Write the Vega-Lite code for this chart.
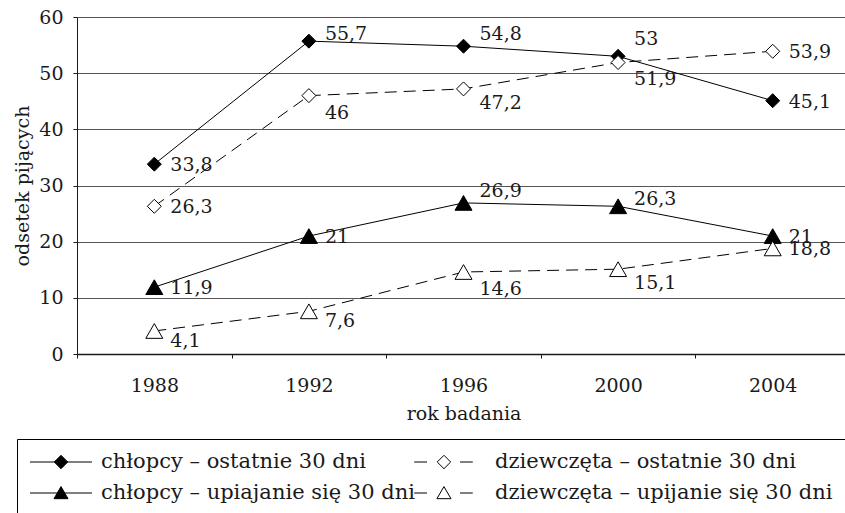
{
  "$schema": "https://vega.github.io/schema/vega-lite/v6.json",
  "width": 773,
  "height": 337,
  "autosize": "none",
  "padding": {"left": 77, "top": 17, "right": 0, "bottom": 159},
  "background": "white",
  "config": {
    "font": "DejaVu Serif",
    "view": {"stroke": null},
    "axis": {
      "labelFont": "DejaVu Serif",
      "labelFontSize": 19,
      "labelColor": "#1a1a1a",
      "titleFont": "DejaVu Serif",
      "titleFontSize": 19,
      "titleFontWeight": "normal",
      "titleColor": "#1a1a1a",
      "domainColor": "#1a1a1a",
      "tickColor": "#1a1a1a",
      "tickSize": 4,
      "gridColor": "#555555",
      "gridWidth": 1
    },
    "legend": {"labelFont": "DejaVu Serif"},
    "text": {"font": "DejaVu Serif"}
  },
  "data": {
    "values": [
      {"g": "B30", "series": "chłopcy – ostatnie 30 dni", "year": "1988", "v": 33.8, "label": "33,8"},
      {"g": "B30", "series": "chłopcy – ostatnie 30 dni", "year": "1992", "v": 55.7, "label": "55,7"},
      {"g": "B30", "series": "chłopcy – ostatnie 30 dni", "year": "1996", "v": 54.8, "label": "54,8"},
      {"g": "B30", "series": "chłopcy – ostatnie 30 dni", "year": "2000", "v": 53, "label": "53"},
      {"g": "B30", "series": "chłopcy – ostatnie 30 dni", "year": "2004", "v": 45.1, "label": "45,1"},
      {"g": "G30", "series": "dziewczęta – ostatnie 30 dni", "year": "1988", "v": 26.3, "label": "26,3"},
      {"g": "G30", "series": "dziewczęta – ostatnie 30 dni", "year": "1992", "v": 46, "label": "46"},
      {"g": "G30", "series": "dziewczęta – ostatnie 30 dni", "year": "1996", "v": 47.2, "label": "47,2"},
      {"g": "G30", "series": "dziewczęta – ostatnie 30 dni", "year": "2000", "v": 51.9, "label": "51,9"},
      {"g": "G30", "series": "dziewczęta – ostatnie 30 dni", "year": "2004", "v": 53.9, "label": "53,9"},
      {"g": "BB", "series": "chłopcy – upiajanie się 30 dni", "year": "1988", "v": 11.9, "label": "11,9"},
      {"g": "BB", "series": "chłopcy – upiajanie się 30 dni", "year": "1992", "v": 21, "label": "21"},
      {"g": "BB", "series": "chłopcy – upiajanie się 30 dni", "year": "1996", "v": 26.9, "label": "26,9"},
      {"g": "BB", "series": "chłopcy – upiajanie się 30 dni", "year": "2000", "v": 26.3, "label": "26,3"},
      {"g": "BB", "series": "chłopcy – upiajanie się 30 dni", "year": "2004", "v": 21, "label": "21"},
      {"g": "GB", "series": "dziewczęta – upijanie się 30 dni", "year": "1988", "v": 4.1, "label": "4,1"},
      {"g": "GB", "series": "dziewczęta – upijanie się 30 dni", "year": "1992", "v": 7.6, "label": "7,6"},
      {"g": "GB", "series": "dziewczęta – upijanie się 30 dni", "year": "1996", "v": 14.6, "label": "14,6"},
      {"g": "GB", "series": "dziewczęta – upijanie się 30 dni", "year": "2000", "v": 15.1, "label": "15,1"},
      {"g": "GB", "series": "dziewczęta – upijanie się 30 dni", "year": "2004", "v": 18.8, "label": "18,8"}
    ]
  },
  "encoding": {
    "x": {
      "field": "year",
      "type": "ordinal",
      "scale": {"type": "band", "paddingInner": 0, "paddingOuter": 0, "domain": ["1988", "1992", "1996", "2000", "2004"]},
      "axis": {"title": "rok badania", "labelAngle": 0, "tickBand": "extent", "labelPadding": 18, "titlePadding": 9, "domainWidth": 1.5, "grid": false}
    },
    "y": {
      "field": "v",
      "type": "quantitative",
      "scale": {"domain": [0, 60], "nice": false},
      "axis": {"title": "odsetek pijących", "values": [0, 10, 20, 30, 40, 50, 60], "labelPadding": 10, "titlePadding": 6, "grid": true}
    }
  },
  "layer": [
    {
      "transform": [{"filter": "datum.g == 'B30' || datum.g == 'BB'"}],
      "mark": {"type": "line", "stroke": "black", "strokeWidth": 1},
      "encoding": {"detail": {"field": "g"}}
    },
    {
      "transform": [{"filter": "datum.g == 'G30' || datum.g == 'GB'"}],
      "mark": {"type": "line", "stroke": "black", "strokeWidth": 1, "strokeDash": [12, 7]},
      "encoding": {"detail": {"field": "g"}}
    },
    {
      "transform": [{"filter": "datum.g == 'B30'"}],
      "mark": {"type": "point", "shape": "diamond", "filled": true, "fill": "black", "stroke": "black", "strokeWidth": 1, "size": 196, "opacity": 1}
    },
    {
      "transform": [{"filter": "datum.g == 'G30'"}],
      "mark": {"type": "point", "shape": "diamond", "filled": true, "fill": "white", "stroke": "black", "strokeWidth": 1, "size": 196, "opacity": 1}
    },
    {
      "transform": [{"filter": "datum.g == 'BB'"}],
      "mark": {"type": "point", "shape": "triangle-up", "filled": true, "fill": "black", "stroke": "black", "strokeWidth": 1, "size": 289, "opacity": 1}
    },
    {
      "transform": [{"filter": "datum.g == 'GB'"}],
      "mark": {"type": "point", "shape": "triangle-up", "filled": true, "fill": "white", "stroke": "black", "strokeWidth": 1, "size": 289, "opacity": 1}
    },
    {
      "transform": [{"filter": "indexof(['B30-1988','B30-2004','G30-1988','G30-2004','BB-1988','BB-1992','BB-2004','GB-2004'], datum.g + '-' + datum.year) >= 0"}],
      "mark": {"type": "text", "align": "left", "baseline": "middle", "dx": 16, "dy": 1, "fontSize": 19, "color": "#1a1a1a"},
      "encoding": {"text": {"field": "label"}}
    },
    {
      "transform": [{"filter": "indexof(['B30-1992','BB-2000'], datum.g + '-' + datum.year) >= 0"}],
      "mark": {"type": "text", "align": "left", "baseline": "middle", "dx": 16, "dy": -7, "fontSize": 19, "color": "#1a1a1a"},
      "encoding": {"text": {"field": "label"}}
    },
    {
      "transform": [{"filter": "indexof(['B30-1996','BB-1996'], datum.g + '-' + datum.year) >= 0"}],
      "mark": {"type": "text", "align": "left", "baseline": "middle", "dx": 16, "dy": -12, "fontSize": 19, "color": "#1a1a1a"},
      "encoding": {"text": {"field": "label"}}
    },
    {
      "transform": [{"filter": "indexof(['B30-2000'], datum.g + '-' + datum.year) >= 0"}],
      "mark": {"type": "text", "align": "left", "baseline": "middle", "dx": 16, "dy": -17, "fontSize": 19, "color": "#1a1a1a"},
      "encoding": {"text": {"field": "label"}}
    },
    {
      "transform": [{"filter": "indexof(['GB-1988','GB-1992'], datum.g + '-' + datum.year) >= 0"}],
      "mark": {"type": "text", "align": "left", "baseline": "middle", "dx": 16, "dy": 10, "fontSize": 19, "color": "#1a1a1a"},
      "encoding": {"text": {"field": "label"}}
    },
    {
      "transform": [{"filter": "indexof(['G30-1996','GB-2000'], datum.g + '-' + datum.year) >= 0"}],
      "mark": {"type": "text", "align": "left", "baseline": "middle", "dx": 16, "dy": 14, "fontSize": 19, "color": "#1a1a1a"},
      "encoding": {"text": {"field": "label"}}
    },
    {
      "transform": [{"filter": "indexof(['G30-1992','G30-2000','GB-1996'], datum.g + '-' + datum.year) >= 0"}],
      "mark": {"type": "text", "align": "left", "baseline": "middle", "dx": 16, "dy": 17, "fontSize": 19, "color": "#1a1a1a"},
      "encoding": {"text": {"field": "label"}}
    },
    {
      "transform": [{"filter": "false"}],
      "mark": {"type": "point", "filled": true, "stroke": "black", "strokeWidth": 1, "size": 427, "opacity": 1},
      "encoding": {
        "shape": {
          "field": "series",
          "type": "nominal",
          "scale": {
            "domain": ["chłopcy – ostatnie 30 dni", "chłopcy – upiajanie się 30 dni", "dziewczęta – ostatnie 30 dni", "dziewczęta – upijanie się 30 dni"],
            "range": [
              "M-3,0H3M0,-0.65L0.65,0L0,0.65L-0.65,0Z",
              "M-3,0H3M0,-0.62L0.68,0.55L-0.68,0.55Z",
              "M-3.95,0H-2.71M0.48,0H1.72M-1.07,-0.65L-0.42,0L-1.07,0.65L-1.72,0Z",
              "M-3.95,0H-2.71M0.48,0H1.72M-1.07,-0.62L-0.39,0.55L-1.75,0.55Z"
            ]
          },
          "legend": {
            "title": null, "orient": "none", "legendX": -60, "legendY": 422, "columns": 2,
            "padding": 12, "strokeColor": "black", "fillColor": "white",
            "symbolSize": 427, "symbolOffset": 21, "labelOffset": 29, "labelLimit": 600,
            "labelFontSize": 21, "labelColor": "#1a1a1a",
            "columnPadding": -3, "rowPadding": 10, "symbolStrokeWidth": 1
          }
        },
        "fill": {
          "field": "series",
          "type": "nominal",
          "scale": {
            "domain": ["chłopcy – ostatnie 30 dni", "chłopcy – upiajanie się 30 dni", "dziewczęta – ostatnie 30 dni", "dziewczęta – upijanie się 30 dni"],
            "range": ["black", "black", "white", "white"]
          },
          "legend": {
            "title": null, "orient": "none", "legendX": -60, "legendY": 422, "columns": 2,
            "padding": 12, "strokeColor": "black", "fillColor": "white",
            "symbolSize": 427, "symbolOffset": 21, "labelOffset": 29, "labelLimit": 600,
            "labelFontSize": 21, "labelColor": "#1a1a1a",
            "columnPadding": -3, "rowPadding": 10, "symbolStrokeWidth": 1
          }
        },
        "stroke": {
          "field": "series",
          "type": "nominal",
          "scale": {
            "domain": ["chłopcy – ostatnie 30 dni", "chłopcy – upiajanie się 30 dni", "dziewczęta – ostatnie 30 dni", "dziewczęta – upijanie się 30 dni"],
            "range": ["black", "black", "black", "black"]
          },
          "legend": {
            "title": null, "orient": "none", "legendX": -60, "legendY": 422, "columns": 2,
            "padding": 12, "strokeColor": "black", "fillColor": "white",
            "symbolSize": 427, "symbolOffset": 21, "labelOffset": 29, "labelLimit": 600,
            "labelFontSize": 21, "labelColor": "#1a1a1a",
            "columnPadding": -3, "rowPadding": 10, "symbolStrokeWidth": 1
          }
        }
      }
    }
  ]
}
